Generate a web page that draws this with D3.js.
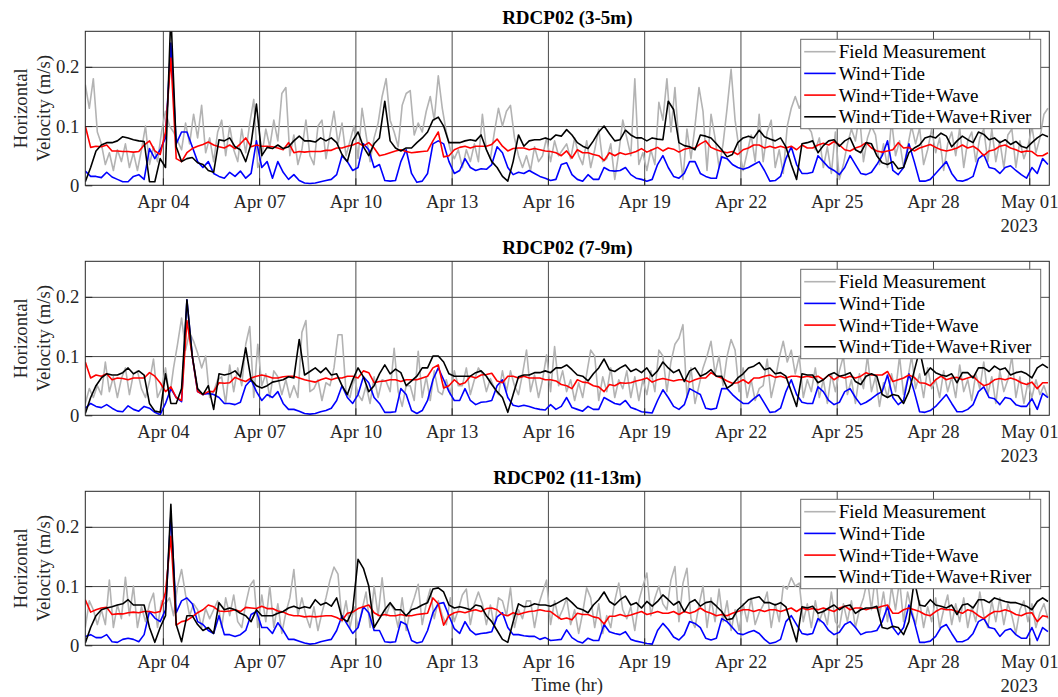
<!DOCTYPE html>
<html>
<head>
<meta charset="utf-8">
<script src="https://cdn.jsdelivr.net/npm/d3@7"></script>
<style>
  body { margin: 0; background: #ffffff; }
  svg { display: block; }
</style>
</head>
<body>
<div id="chart"></div>
<script>
// ---- Time base of the series ----------------------------------------------
const seriesStart = new Date(2023, 3, 1, 14, 0);   // Apr 01 2023 14:00
const modelStepHours = 4;                           // model output interval
const fieldStepHours = 3;                           // RDCP sampling interval (plotted)
const axisStart = new Date(2023, 3, 1, 14, 0);
const axisEnd = new Date(2023, 4, 1, 15, 0);

const tickDates = ["2023-04-04", "2023-04-07", "2023-04-10", "2023-04-13", "2023-04-16",
                   "2023-04-19", "2023-04-22", "2023-04-25", "2023-04-28", "2023-05-01"];
const yearLabel = "2023";
const yTicks = [0, 0.1, 0.2];
const yMax = 0.26;

const panelTitles = ["RDCP02 (3-5m)", "RDCP02 (7-9m)", "RDCP02 (11-13m)"];
const seriesNames = ["Field Measurement", "Wind+Tide", "Wind+Tide+Wave", "Wind+Tide+Wave+River"];
const seriesColors = ["#b3b3b3", "#0000ff", "#ff0000", "#000000"];

// ---- RDCP02 3-5 m ------------------------------------------------------------
const field1 = [
  0.170,0.130,0.180,0.090,0.070,0.035,0.055,0.025,0.060,0.040,
  0.070,0.030,0.055,0.025,0.060,0.100,0.035,0.065,0.040,0.090,
  0.125,0.100,0.090,0.075,0.060,0.105,0.070,0.120,0.080,0.135,
  0.055,0.080,0.040,0.090,0.110,0.050,0.100,0.060,0.040,0.095,
  0.055,0.105,0.145,0.030,0.050,0.095,0.065,0.110,0.075,0.155,
  0.165,0.050,0.085,0.035,0.060,0.110,0.050,0.035,0.100,0.110,
  0.045,0.085,0.125,0.070,0.105,0.050,0.075,0.100,0.045,0.130,
  0.085,0.040,0.080,0.105,0.150,0.180,0.110,0.090,0.065,0.135,
  0.155,0.160,0.085,0.105,0.090,0.125,0.150,0.110,0.185,0.130,
  0.090,0.060,0.045,0.060,0.030,0.060,0.040,0.070,0.040,0.120,
  0.060,0.045,0.090,0.130,0.100,0.125,0.135,0.080,0.050,0.030,
  0.050,0.025,0.065,0.040,0.050,0.080,0.040,0.075,0.050,0.060,
  0.070,0.045,0.080,0.050,0.035,0.075,0.030,0.060,0.095,0.040,
  0.045,0.070,0.010,0.055,0.110,0.080,0.050,0.180,0.035,0.055,
  0.025,0.060,0.035,0.140,0.110,0.180,0.090,0.165,0.070,0.010,
  0.095,0.045,0.100,0.165,0.125,0.025,0.120,0.080,0.030,0.070,
  0.130,0.196,0.110,0.060,0.025,0.055,0.085,0.040,0.120,0.040,
  0.090,0.110,0.030,0.060,0.020,0.100,0.130,0.150,0.130,0.145,
  0.100,0.090,0.060,0.080,0.030,0.065,0.020,0.090,0.010,0.035,
  0.070,0.095,0.075,0.120,0.040,0.080,0.100,0.085,0.035,0.070,
  0.030,0.110,0.050,0.075,0.030,0.065,0.100,0.070,0.097,0.035,
  0.060,0.095,0.055,0.080,0.025,0.070,0.090,0.050,0.097,0.030,
  0.075,0.090,0.040,0.080,0.095,0.040,0.095,0.040,0.075,0.030,
  0.085,0.095,0.030,0.075,0.045,0.065,0.100,0.055,0.080,0.120,
  0.130
];
const windTide1 = [
  0.024,0.015,0.015,0.013,0.022,0.014,0.010,0.006,0.006,0.015,
  0.018,0.010,0.062,0.045,0.060,0.080,0.240,0.070,0.090,0.090,
  0.065,0.040,0.030,0.040,0.020,0.015,0.012,0.022,0.015,0.024,
  0.012,0.020,0.075,0.030,0.040,0.012,0.040,0.022,0.010,0.018,
  0.008,0.004,0.003,0.004,0.006,0.008,0.010,0.018,0.050,0.040,
  0.025,0.030,0.070,0.060,0.030,0.035,0.008,0.007,0.008,0.040,
  0.060,0.020,0.005,0.007,0.020,0.070,0.075,0.070,0.040,0.020,
  0.025,0.045,0.030,0.025,0.028,0.027,0.035,0.065,0.055,0.030,
  0.018,0.022,0.020,0.025,0.020,0.015,0.012,0.008,0.010,0.035,
  0.038,0.018,0.010,0.007,0.018,0.010,0.010,0.030,0.025,0.024,
  0.025,0.030,0.018,0.012,0.010,0.007,0.010,0.035,0.050,0.030,
  0.015,0.012,0.020,0.040,0.040,0.020,0.015,0.012,0.012,0.048,
  0.045,0.035,0.030,0.027,0.030,0.035,0.040,0.025,0.007,0.008,
  0.015,0.045,0.065,0.035,0.020,0.020,0.022,0.050,0.040,0.030,
  0.025,0.018,0.030,0.050,0.035,0.020,0.018,0.022,0.035,0.050,
  0.075,0.025,0.018,0.030,0.070,0.040,0.007,0.007,0.010,0.020,
  0.030,0.040,0.020,0.008,0.007,0.010,0.015,0.045,0.052,0.030,
  0.028,0.020,0.030,0.033,0.025,0.018,0.012,0.030,0.020,0.045,
  0.035
];
const windTideWave1 = [
  0.100,0.064,0.066,0.065,0.068,0.058,0.058,0.057,0.057,0.056,
  0.057,0.068,0.075,0.058,0.052,0.090,0.215,0.045,0.040,0.055,
  0.062,0.066,0.069,0.073,0.068,0.065,0.063,0.068,0.062,0.070,
  0.080,0.065,0.068,0.066,0.066,0.065,0.063,0.060,0.072,0.055,
  0.057,0.056,0.057,0.057,0.057,0.059,0.059,0.063,0.063,0.066,
  0.068,0.072,0.066,0.072,0.063,0.050,0.052,0.055,0.058,0.060,
  0.057,0.055,0.056,0.057,0.058,0.075,0.090,0.048,0.050,0.060,
  0.064,0.066,0.063,0.066,0.066,0.066,0.069,0.078,0.066,0.058,
  0.062,0.063,0.063,0.060,0.062,0.060,0.058,0.057,0.055,0.050,
  0.058,0.046,0.060,0.055,0.055,0.052,0.050,0.042,0.055,0.050,
  0.055,0.052,0.054,0.057,0.062,0.056,0.060,0.064,0.058,0.063,
  0.061,0.056,0.061,0.063,0.063,0.070,0.075,0.064,0.060,0.057,
  0.055,0.057,0.052,0.060,0.063,0.068,0.068,0.063,0.066,0.063,
  0.066,0.063,0.066,0.060,0.068,0.063,0.063,0.068,0.071,0.068,
  0.074,0.068,0.060,0.058,0.063,0.066,0.072,0.063,0.058,0.056,
  0.058,0.060,0.072,0.063,0.064,0.058,0.063,0.066,0.069,0.064,
  0.060,0.058,0.060,0.063,0.068,0.063,0.066,0.060,0.050,0.058,
  0.060,0.066,0.068,0.063,0.060,0.056,0.058,0.057,0.050,0.050,
  0.055
];
const windTideWaveRiver1 = [
  0.006,0.030,0.058,0.068,0.072,0.072,0.075,0.082,0.080,0.077,
  0.075,0.074,0.006,0.006,0.045,0.030,0.290,0.065,0.040,0.045,
  0.047,0.038,0.035,0.025,0.022,0.077,0.075,0.080,0.065,0.060,
  0.040,0.070,0.137,0.050,0.064,0.062,0.068,0.062,0.065,0.075,
  0.083,0.075,0.075,0.073,0.080,0.075,0.080,0.072,0.052,0.040,
  0.075,0.090,0.065,0.050,0.070,0.080,0.142,0.075,0.063,0.058,
  0.063,0.063,0.072,0.080,0.090,0.110,0.115,0.100,0.072,0.072,
  0.072,0.075,0.077,0.075,0.085,0.060,0.040,0.030,0.015,0.007,
  0.040,0.085,0.066,0.075,0.077,0.077,0.080,0.077,0.085,0.083,
  0.094,0.085,0.072,0.066,0.062,0.075,0.090,0.100,0.087,0.075,
  0.077,0.093,0.085,0.080,0.080,0.075,0.080,0.078,0.077,0.142,
  0.128,0.072,0.067,0.065,0.060,0.085,0.083,0.080,0.070,0.060,
  0.048,0.052,0.072,0.080,0.083,0.080,0.093,0.082,0.078,0.075,
  0.080,0.065,0.035,0.010,0.070,0.072,0.075,0.055,0.067,0.075,
  0.077,0.066,0.075,0.080,0.060,0.055,0.072,0.070,0.050,0.038,
  0.035,0.040,0.028,0.030,0.055,0.063,0.068,0.080,0.083,0.080,
  0.088,0.083,0.065,0.075,0.083,0.077,0.072,0.090,0.086,0.077,
  0.080,0.072,0.077,0.069,0.074,0.066,0.063,0.072,0.080,0.086,
  0.082
];

// ---- RDCP02 7-9 m ------------------------------------------------------------
const field2 = [
  0.020,0.045,0.030,0.050,0.035,0.090,0.040,0.065,0.030,0.062,
  0.080,0.035,0.070,0.075,0.045,0.030,0.057,0.095,0.030,0.045,
  0.080,0.030,0.080,0.120,0.164,0.110,0.140,0.125,0.105,0.080,
  0.100,0.030,0.040,0.060,0.065,0.020,0.085,0.040,0.080,0.050,
  0.120,0.150,0.030,0.120,0.050,0.070,0.030,0.075,0.065,0.035,
  0.060,0.030,0.050,0.030,0.140,0.160,0.040,0.045,0.060,0.025,
  0.055,0.050,0.080,0.136,0.136,0.040,0.030,0.065,0.035,0.025,
  0.050,0.020,0.065,0.030,0.060,0.057,0.040,0.113,0.040,0.015,
  0.050,0.050,0.025,0.108,0.030,0.065,0.025,0.075,0.040,0.035,
  0.060,0.035,0.075,0.050,0.050,0.080,0.035,0.060,0.080,0.070,
  0.040,0.062,0.045,0.035,0.075,0.040,0.075,0.050,0.035,0.070,
  0.110,0.040,0.068,0.030,0.060,0.102,0.040,0.116,0.050,0.075,
  0.040,0.060,0.025,0.055,0.030,0.070,0.110,0.100,0.025,0.065,
  0.040,0.080,0.030,0.060,0.045,0.075,0.030,0.065,0.025,0.060,
  0.035,0.075,0.040,0.110,0.100,0.040,0.090,0.120,0.130,0.153,
  0.030,0.080,0.020,0.050,0.080,0.100,0.125,0.070,0.100,0.050,
  0.100,0.128,0.110,0.040,0.080,0.030,0.060,0.025,0.045,0.050,
  0.095,0.030,0.060,0.097,0.125,0.090,0.110,0.070,0.100,0.030,
  0.060,0.040,0.080,0.030,0.060,0.020,0.070,0.040,0.075,0.100,
  0.035,0.060,0.020,0.070,0.045,0.100,0.040,0.065,0.015,0.055,
  0.030,0.070,0.040,0.100,0.035,0.060,0.100,0.045,0.070,0.030,
  0.080,0.045,0.060,0.030,0.075,0.040,0.065,0.030,0.085,0.040,
  0.060,0.025,0.070,0.045,0.090,0.035,0.065,0.020,0.075,0.040,
  0.060,0.100,0.030,0.065,0.020,0.055,0.030,0.060,0.035,0.050,
  0.030
];
const windTide2 = [
  0.012,0.020,0.015,0.013,0.018,0.012,0.007,0.006,0.016,0.010,
  0.007,0.015,0.012,0.005,0.001,0.020,0.045,0.030,0.023,0.195,
  0.100,0.040,0.035,0.037,0.035,0.030,0.020,0.020,0.018,0.022,
  0.050,0.060,0.040,0.025,0.035,0.030,0.040,0.020,0.010,0.010,
  0.007,0.003,0.002,0.003,0.006,0.008,0.012,0.025,0.050,0.030,
  0.020,0.035,0.065,0.055,0.030,0.020,0.005,0.005,0.006,0.045,
  0.035,0.008,0.003,0.008,0.025,0.060,0.080,0.060,0.040,0.025,
  0.025,0.045,0.025,0.018,0.022,0.023,0.025,0.050,0.060,0.030,
  0.017,0.015,0.017,0.015,0.012,0.010,0.009,0.018,0.010,0.015,
  0.030,0.013,0.010,0.007,0.015,0.010,0.010,0.030,0.025,0.020,
  0.018,0.025,0.013,0.010,0.006,0.005,0.004,0.025,0.043,0.030,
  0.015,0.010,0.018,0.045,0.040,0.035,0.012,0.010,0.012,0.045,
  0.045,0.035,0.027,0.020,0.020,0.028,0.035,0.020,0.005,0.006,
  0.012,0.040,0.060,0.035,0.022,0.020,0.020,0.048,0.040,0.025,
  0.018,0.022,0.040,0.045,0.030,0.018,0.022,0.028,0.035,0.040,
  0.068,0.030,0.018,0.025,0.070,0.040,0.006,0.005,0.008,0.015,
  0.025,0.035,0.020,0.006,0.006,0.010,0.018,0.040,0.048,0.030,
  0.028,0.018,0.030,0.028,0.018,0.015,0.015,0.028,0.010,0.037,
  0.030
];
const windTideWave2 = [
  0.090,0.063,0.068,0.066,0.070,0.060,0.063,0.062,0.060,0.063,
  0.063,0.063,0.072,0.066,0.055,0.040,0.048,0.030,0.025,0.160,
  0.100,0.040,0.035,0.040,0.040,0.055,0.054,0.055,0.064,0.060,
  0.057,0.063,0.066,0.068,0.066,0.063,0.063,0.065,0.066,0.066,
  0.063,0.060,0.058,0.056,0.060,0.063,0.060,0.063,0.063,0.066,
  0.066,0.063,0.075,0.072,0.055,0.057,0.058,0.060,0.060,0.057,
  0.060,0.060,0.060,0.063,0.066,0.080,0.085,0.046,0.050,0.060,
  0.052,0.055,0.066,0.063,0.068,0.069,0.071,0.058,0.055,0.066,
  0.066,0.063,0.066,0.063,0.063,0.063,0.060,0.060,0.058,0.052,
  0.050,0.045,0.060,0.056,0.055,0.050,0.048,0.040,0.052,0.050,
  0.055,0.054,0.055,0.058,0.060,0.063,0.056,0.060,0.062,0.060,
  0.058,0.060,0.060,0.056,0.060,0.063,0.063,0.072,0.066,0.063,
  0.058,0.054,0.055,0.060,0.054,0.063,0.063,0.066,0.068,0.064,
  0.066,0.063,0.066,0.066,0.064,0.066,0.064,0.066,0.060,0.068,
  0.060,0.066,0.063,0.066,0.063,0.066,0.072,0.068,0.068,0.068,
  0.074,0.057,0.060,0.063,0.068,0.064,0.055,0.054,0.050,0.060,
  0.066,0.060,0.063,0.064,0.060,0.063,0.066,0.057,0.050,0.053,
  0.060,0.062,0.060,0.063,0.060,0.055,0.052,0.056,0.045,0.055,
  0.055
];
const windTideWaveRiver2 = [
  0.003,0.030,0.050,0.063,0.070,0.068,0.068,0.072,0.080,0.070,
  0.075,0.068,0.020,0.007,0.005,0.070,0.020,0.020,0.045,0.195,
  0.100,0.045,0.035,0.050,0.010,0.070,0.068,0.070,0.075,0.065,
  0.114,0.060,0.050,0.046,0.050,0.056,0.058,0.060,0.065,0.063,
  0.128,0.068,0.074,0.080,0.072,0.080,0.068,0.070,0.050,0.035,
  0.060,0.080,0.065,0.040,0.050,0.070,0.085,0.070,0.078,0.072,
  0.050,0.058,0.066,0.080,0.080,0.100,0.100,0.090,0.070,0.066,
  0.066,0.066,0.066,0.072,0.075,0.066,0.052,0.040,0.030,0.005,
  0.035,0.065,0.068,0.068,0.072,0.072,0.075,0.072,0.080,0.080,
  0.085,0.077,0.068,0.066,0.058,0.070,0.080,0.095,0.077,0.074,
  0.080,0.085,0.074,0.078,0.072,0.080,0.066,0.075,0.090,0.080,
  0.072,0.077,0.057,0.075,0.080,0.066,0.070,0.077,0.066,0.066,
  0.046,0.052,0.063,0.070,0.080,0.083,0.089,0.077,0.080,0.070,
  0.072,0.066,0.040,0.015,0.070,0.068,0.068,0.055,0.060,0.068,
  0.072,0.066,0.068,0.072,0.057,0.052,0.066,0.070,0.066,0.035,
  0.030,0.035,0.033,0.020,0.040,0.075,0.110,0.068,0.080,0.072,
  0.068,0.066,0.070,0.055,0.072,0.072,0.063,0.080,0.080,0.074,
  0.083,0.077,0.080,0.068,0.072,0.074,0.070,0.063,0.080,0.086,
  0.080
];

// ---- RDCP02 11-13 m ----------------------------------------------------------
const field3 = [
  0.030,0.075,0.060,0.035,0.060,0.035,0.110,0.030,0.068,0.045,
  0.115,0.050,0.100,0.030,0.065,0.040,0.070,0.088,0.030,0.075,
  0.070,0.080,0.050,0.100,0.128,0.085,0.050,0.070,0.060,0.030,
  0.062,0.045,0.060,0.075,0.030,0.080,0.050,0.085,0.040,0.030,
  0.070,0.100,0.110,0.030,0.085,0.040,0.100,0.030,0.070,0.020,
  0.055,0.080,0.128,0.050,0.080,0.050,0.030,0.065,0.025,0.055,
  0.080,0.110,0.132,0.120,0.040,0.075,0.030,0.065,0.030,0.060,
  0.090,0.030,0.100,0.050,0.114,0.050,0.070,0.060,0.030,0.080,
  0.025,0.060,0.080,0.103,0.035,0.070,0.095,0.045,0.075,0.050,
  0.035,0.080,0.040,0.060,0.085,0.095,0.035,0.070,0.090,0.070,
  0.035,0.068,0.030,0.080,0.075,0.050,0.097,0.030,0.060,0.045,
  0.075,0.075,0.030,0.068,0.090,0.110,0.035,0.075,0.045,0.060,
  0.080,0.035,0.060,0.020,0.055,0.097,0.080,0.030,0.070,0.020,
  0.050,0.030,0.075,0.105,0.060,0.045,0.065,0.025,0.075,0.100,
  0.122,0.050,0.080,0.100,0.070,0.060,0.110,0.133,0.040,0.105,
  0.130,0.045,0.030,0.068,0.100,0.030,0.080,0.040,0.095,0.040,
  0.075,0.025,0.060,0.025,0.070,0.040,0.080,0.035,0.055,0.068,
  0.090,0.030,0.070,0.040,0.100,0.095,0.114,0.100,0.105,0.040,
  0.070,0.030,0.075,0.040,0.060,0.035,0.090,0.040,0.030,0.070,
  0.040,0.075,0.030,0.060,0.080,0.110,0.060,0.120,0.050,0.090,
  0.040,0.100,0.060,0.110,0.040,0.090,0.060,0.035,0.075,0.030,
  0.065,0.040,0.080,0.030,0.060,0.085,0.035,0.070,0.040,0.080,
  0.030,0.065,0.040,0.090,0.050,0.030,0.075,0.040,0.080,0.035,
  0.070,0.050,0.020,0.060,0.075,0.040,0.070,0.030,0.055,0.070,
  0.045
];
const windTide3 = [
  0.015,0.018,0.013,0.013,0.018,0.006,0.005,0.010,0.012,0.010,
  0.006,0.018,0.057,0.046,0.040,0.060,0.220,0.055,0.075,0.080,
  0.070,0.040,0.035,0.025,0.020,0.050,0.018,0.018,0.015,0.018,
  0.025,0.052,0.057,0.030,0.030,0.020,0.038,0.025,0.010,0.010,
  0.007,0.004,0.002,0.003,0.006,0.008,0.010,0.025,0.050,0.035,
  0.020,0.030,0.065,0.055,0.025,0.025,0.006,0.005,0.006,0.040,
  0.035,0.008,0.004,0.006,0.025,0.055,0.070,0.072,0.050,0.028,
  0.020,0.040,0.025,0.018,0.020,0.021,0.023,0.048,0.055,0.030,
  0.018,0.018,0.016,0.015,0.015,0.010,0.013,0.008,0.009,0.010,
  0.026,0.013,0.007,0.004,0.012,0.008,0.008,0.035,0.023,0.020,
  0.018,0.023,0.010,0.007,0.005,0.003,0.002,0.025,0.037,0.027,
  0.014,0.009,0.018,0.040,0.037,0.030,0.012,0.009,0.012,0.045,
  0.040,0.030,0.020,0.018,0.022,0.025,0.020,0.010,0.003,0.005,
  0.010,0.040,0.050,0.035,0.020,0.018,0.020,0.045,0.038,0.025,
  0.018,0.022,0.035,0.040,0.030,0.018,0.022,0.023,0.025,0.040,
  0.065,0.030,0.018,0.030,0.068,0.040,0.005,0.005,0.007,0.015,
  0.030,0.035,0.020,0.006,0.006,0.010,0.020,0.040,0.045,0.030,
  0.028,0.015,0.025,0.028,0.018,0.012,0.012,0.030,0.008,0.030,
  0.023
];
const windTideWave3 = [
  0.077,0.056,0.060,0.063,0.064,0.052,0.053,0.053,0.055,0.056,
  0.055,0.057,0.057,0.055,0.057,0.090,0.184,0.034,0.040,0.042,
  0.048,0.055,0.060,0.068,0.065,0.058,0.057,0.058,0.060,0.057,
  0.064,0.063,0.062,0.066,0.062,0.062,0.058,0.056,0.052,0.050,
  0.050,0.048,0.049,0.048,0.049,0.050,0.050,0.047,0.042,0.054,
  0.056,0.062,0.065,0.068,0.055,0.050,0.052,0.050,0.050,0.052,
  0.050,0.050,0.052,0.053,0.054,0.080,0.070,0.034,0.050,0.055,
  0.057,0.055,0.058,0.060,0.057,0.062,0.063,0.060,0.052,0.050,
  0.055,0.052,0.055,0.057,0.058,0.060,0.058,0.057,0.050,0.044,
  0.046,0.043,0.054,0.052,0.052,0.048,0.046,0.036,0.049,0.049,
  0.052,0.049,0.051,0.054,0.057,0.052,0.054,0.057,0.054,0.054,
  0.057,0.052,0.057,0.054,0.057,0.063,0.057,0.054,0.050,0.052,
  0.050,0.054,0.057,0.060,0.060,0.057,0.060,0.057,0.060,0.060,
  0.057,0.060,0.063,0.057,0.063,0.060,0.062,0.060,0.063,0.060,
  0.057,0.063,0.066,0.060,0.063,0.063,0.060,0.063,0.063,0.066,
  0.068,0.054,0.054,0.060,0.063,0.060,0.057,0.052,0.050,0.057,
  0.062,0.060,0.060,0.057,0.054,0.060,0.057,0.050,0.045,0.052,
  0.057,0.057,0.060,0.057,0.052,0.050,0.054,0.055,0.040,0.050,
  0.048
];
const windTideWaveRiver3 = [
  0.004,0.030,0.050,0.060,0.063,0.065,0.068,0.070,0.077,0.068,
  0.068,0.068,0.030,0.005,0.030,0.050,0.238,0.035,0.006,0.050,
  0.050,0.035,0.025,0.030,0.020,0.072,0.060,0.063,0.060,0.054,
  0.050,0.040,0.060,0.050,0.050,0.050,0.054,0.057,0.063,0.066,
  0.062,0.065,0.063,0.077,0.068,0.072,0.066,0.080,0.046,0.040,
  0.060,0.145,0.130,0.100,0.030,0.045,0.060,0.072,0.060,0.060,
  0.050,0.060,0.063,0.068,0.072,0.095,0.097,0.090,0.068,0.063,
  0.065,0.063,0.060,0.068,0.066,0.050,0.040,0.025,0.010,0.005,
  0.040,0.070,0.065,0.066,0.070,0.068,0.068,0.066,0.070,0.075,
  0.080,0.072,0.063,0.060,0.055,0.068,0.077,0.090,0.074,0.068,
  0.077,0.083,0.068,0.072,0.063,0.074,0.066,0.074,0.085,0.077,
  0.068,0.074,0.057,0.072,0.077,0.066,0.072,0.074,0.066,0.057,
  0.043,0.045,0.060,0.068,0.077,0.080,0.082,0.072,0.072,0.068,
  0.072,0.065,0.035,0.006,0.065,0.063,0.066,0.054,0.057,0.063,
  0.068,0.060,0.066,0.068,0.054,0.060,0.063,0.063,0.066,0.030,
  0.028,0.032,0.030,0.018,0.040,0.110,0.068,0.066,0.077,0.068,
  0.066,0.063,0.068,0.052,0.068,0.070,0.063,0.077,0.077,0.072,
  0.080,0.077,0.074,0.072,0.072,0.069,0.066,0.060,0.074,0.080,
  0.074
];

// ---- Panel table built from the arrays above ---------------------------------
const panels = [
  { title: panelTitles[0], series: [field1, windTide1, windTideWave1, windTideWaveRiver1] },
  { title: panelTitles[1], series: [field2, windTide2, windTideWave2, windTideWaveRiver2] },
  { title: panelTitles[2], series: [field3, windTide3, windTideWave3, windTideWaveRiver3] }
];
const stepHours = [fieldStepHours, modelStepHours, modelStepHours, modelStepHours];

// ---- Layout -----------------------------------------------------------------
const W = 1058, H = 697;
const plotLeft = 85.3, plotRight = 1049.3;
const panelTops = [31.3, 261.3, 491.3];
const panelH = 154;
const serif = "'Liberation Serif', 'Times New Roman', Times, serif";
const textColor = "#262626";

const svg = d3.select("#chart").append("svg")
  .attr("width", W).attr("height", H)
  .style("font-family", serif);

svg.append("rect").attr("width", W).attr("height", H).attr("fill", "#fff");

const x = d3.scaleTime().domain([axisStart, axisEnd]).range([plotLeft, plotRight]);
const parseDay = d3.timeParse("%Y-%m-%d");
const xTicks = tickDates.map(parseDay);
const fmtTick = d3.timeFormat("%b %d");

panels.forEach((panel, p) => {
  const top = panelTops[p];
  const y = d3.scaleLinear().domain([0, yMax]).range([top + panelH, top]);
  const g = svg.append("g");

  const clipId = "plot-clip-" + p;
  svg.append("clipPath").attr("id", clipId)
    .append("rect")
    .attr("x", plotLeft).attr("y", top)
    .attr("width", plotRight - plotLeft).attr("height", panelH);

  // Grid lines
  const grid = g.append("g").attr("class", "grid");
  grid.append("g")
    .attr("transform", `translate(0,${top + panelH})`)
    .call(d3.axisBottom(x).tickValues(xTicks).tickSize(-panelH).tickFormat(""))
    .call(s => s.select(".domain").remove())
    .call(s => s.selectAll("line").attr("stroke", "#4a4a4a").attr("stroke-width", 1));
  grid.append("g")
    .attr("transform", `translate(${plotLeft},0)`)
    .call(d3.axisLeft(y).tickValues(yTicks.filter(v => v > 0)).tickSize(-(plotRight - plotLeft)).tickFormat(""))
    .call(s => s.select(".domain").remove())
    .call(s => s.selectAll("line").attr("stroke", "#4a4a4a").attr("stroke-width", 1));

  // Series
  const lines = g.append("g").attr("clip-path", `url(#${clipId})`);
  panel.series.forEach((values, k) => {
    const line = d3.line()
      .x((v, i) => x(d3.timeHour.offset(seriesStart, i * stepHours[k])))
      .y(v => y(v));
    lines.append("path")
      .datum(values)
      .attr("fill", "none")
      .attr("stroke", seriesColors[k])
      .attr("stroke-width", 1.6)
      .attr("stroke-linejoin", "round")
      .attr("d", line);
  });

  // Axes with inward ticks
  const xAxis = g.append("g")
    .attr("transform", `translate(0,${top + panelH})`)
    .call(d3.axisBottom(x).tickValues(xTicks).tickFormat(fmtTick).tickSize(-7).tickPadding(9.5))
    .call(s => s.select(".domain").remove());
  xAxis.selectAll("line").attr("stroke", textColor);
  xAxis.selectAll("text").attr("fill", textColor)
    .style("font-size", "18.7px").style("font-family", serif);

  // Year under the last date label
  const lastLabel = xAxis.selectAll(".tick text").filter((d, i, n) => i === n.length - 1);
  const lastWidth = lastLabel.node().getComputedTextLength();
  g.append("text")
    .attr("x", x(xTicks[xTicks.length - 1]) - lastWidth / 2)
    .attr("y", top + panelH + 46.4)
    .attr("fill", textColor)
    .style("font-size", "18.7px")
    .text(yearLabel);

  const yAxis = g.append("g")
    .attr("transform", `translate(${plotLeft},0)`)
    .call(d3.axisLeft(y).tickValues(yTicks).tickFormat(d => d === 0 ? "0" : d3.format(".1f")(d)).tickSize(-7).tickPadding(6))
    .call(s => s.select(".domain").remove());
  yAxis.selectAll("line").attr("stroke", textColor);
  yAxis.selectAll("text").attr("fill", textColor)
    .style("font-size", "18.7px").style("font-family", serif);

  // Plot box
  g.append("rect")
    .attr("x", plotLeft).attr("y", top)
    .attr("width", plotRight - plotLeft).attr("height", panelH)
    .attr("fill", "none").attr("stroke", textColor).attr("stroke-width", 1);

  // Title
  g.append("text")
    .attr("x", (plotLeft + plotRight) / 2)
    .attr("y", top - 7.8)
    .attr("text-anchor", "middle")
    .attr("fill", "#000")
    .style("font-size", "19px").style("font-weight", "bold")
    .text(panel.title);

  // Y label (two lines)
  const yMid = top + panelH / 2;
  [["Horizontal", 27], ["Velocity (m/s)", 49.5]].forEach(([txt, bx]) => {
    g.append("text")
      .attr("transform", `translate(${bx},${yMid}) rotate(-90)`)
      .attr("text-anchor", "middle")
      .attr("fill", textColor)
      .style("font-size", "18.7px")
      .text(txt);
  });

  // Legend
  const lgX = 800.7, lgY = top + 8, lgW = 240, lgH = 89.4;
  const legend = g.append("g");
  legend.append("rect")
    .attr("x", lgX).attr("y", lgY).attr("width", lgW).attr("height", lgH)
    .attr("fill", "#fff").attr("stroke", "#6b6b6b").attr("stroke-width", 1);
  seriesNames.forEach((name, k) => {
    const ry = lgY + 12.4 + k * 21.7;
    legend.append("line")
      .attr("x1", lgX + 3.5).attr("x2", lgX + 35)
      .attr("y1", ry).attr("y2", ry)
      .attr("stroke", seriesColors[k]).attr("stroke-width", 1.6);
    legend.append("text")
      .attr("x", lgX + 38).attr("y", ry + 6.6)
      .attr("fill", "#000")
      .style("font-size", "19px")
      .text(name);
  });
});

// X axis title, below the date labels of the bottom panel
svg.append("text")
  .attr("x", (plotLeft + plotRight) / 2)
  .attr("y", 690.5)
  .attr("text-anchor", "middle")
  .attr("fill", textColor)
  .style("font-size", "18.7px")
  .style("font-family", serif)
  .text("Time (hr)");
</script>
</body>
</html>
